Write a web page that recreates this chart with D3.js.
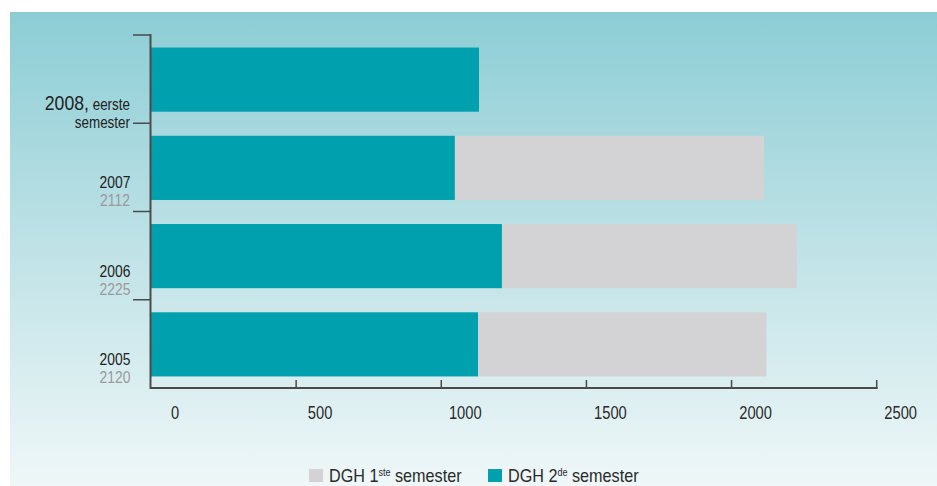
<!DOCTYPE html>
<html>
<head>
<meta charset="utf-8">
<script src="https://cdn.jsdelivr.net/npm/d3@7"></script>
<style>
  html, body { margin: 0; padding: 0; background: #fff; }
  svg { display: block; }
  text { font-family: "Liberation Sans", Arial, sans-serif; }
</style>
</head>
<body>
<svg id="chart" width="937" height="486"></svg>
<script>
// ---- data ----
const categories = ["2005", "2006", "2007", "2008"];
const semester1 = [993, 1016, 1065, 0];      // DGH 1ste semester (grey)
const semester2 = [1127, 1209, 1047, 1130];  // DGH 2de semester (teal)
const totals = ["2120", "2225", "2112", ""];
const xTicks = [0, 500, 1000, 1500, 2000, 2500];

const colTeal = "#00a0ae";
const colGrey = "#d3d3d5";
const SX = 0.84; // horizontal condensing of text

const svg = d3.select("#chart");

// background panel with gradient
const defs = svg.append("defs");
const grad = defs.append("linearGradient").attr("id", "bg").attr("x1", 0).attr("y1", 0).attr("x2", 0).attr("y2", 1);
grad.append("stop").attr("offset", "0%").attr("stop-color", "#8ccdd5");
grad.append("stop").attr("offset", "50%").attr("stop-color", "#bfe2e6");
grad.append("stop").attr("offset", "100%").attr("stop-color", "#eff7f8");
svg.append("rect").attr("x", 10).attr("y", 12).attr("width", 927).attr("height", 474).attr("fill", "url(#bg)");

// scales
const x = d3.scaleLinear().domain([0, 2500]).range([151, 876.7]);
const yOrder = categories.slice().reverse(); // 2008 at top
const y = d3.scaleBand().domain(yOrder).range([35, 388]).paddingInner(0.273).paddingOuter(0.1365);
const step = y.step();

// stacked data
const rows = categories.map((c, i) => ({ cat: c, s2: semester2[i], s1: semester1[i] }));
const stacked = d3.stack().keys(["s2", "s1"])(rows);
const colors = { s2: colTeal, s1: colGrey };

svg.append("g").selectAll("g").data(stacked).join("g")
  .attr("fill", d => colors[d.key])
  .selectAll("rect").data(d => d).join("rect")
  .attr("x", d => x(d[0]))
  .attr("width", d => Math.max(0, x(d[1]) - x(d[0])))
  .attr("y", d => y(d.data.cat) + 0.5)
  .attr("height", y.bandwidth());

function place(sel, px, py, sx) {
  return sel.attr("transform", `translate(${px},${py}) scale(${sx || SX},1)`);
}

// axes
const axisCol = "#4a4a4a";
const xAxis = svg.append("g");
xAxis.append("line").attr("x1", x(0) - 1).attr("x2", x(2500) + 1).attr("y1", 388).attr("y2", 388)
  .attr("stroke", axisCol).attr("stroke-width", 2);
xAxis.selectAll("line.tick").data(xTicks.slice(1)).join("line").attr("class", "tick")
  .attr("x1", d => x(d)).attr("x2", d => x(d)).attr("y1", 388).attr("y2", 380)
  .attr("stroke", axisCol).attr("stroke-width", 1.5);
xAxis.selectAll("text").data(xTicks).join("text")
  .attr("transform", d => `translate(${x(d) + 24},419) scale(${SX},1)`)
  .attr("text-anchor", "middle").attr("font-size", 17.5).attr("fill", "#2a2a2a")
  .text(d => d);

const yAxis = svg.append("g");
yAxis.append("line").attr("x1", 150.5).attr("x2", 150.5).attr("y1", 34).attr("y2", 389)
  .attr("stroke", axisCol).attr("stroke-width", 2);
const boundaries = yOrder.map(c => y(c) - step * y.paddingInner() / 2);
yAxis.selectAll("line.tick").data(boundaries).join("line").attr("class", "tick")
  .attr("x1", 133).attr("x2", 150).attr("y1", d => d).attr("y2", d => d)
  .attr("stroke", axisCol).attr("stroke-width", 1.5);

// category labels
const labG = svg.append("g");
categories.forEach((c, i) => {
  const top = y(c) - step * y.paddingInner() / 2;
  if (totals[i] !== "") {
    place(labG.append("text"), 115, top + 65).attr("text-anchor", "middle")
      .attr("font-size", 16.5).attr("fill", "#222").text(c);
    place(labG.append("text"), 115, top + 83).attr("text-anchor", "middle")
      .attr("font-size", 16.5).attr("fill", "#9a9a9a").text(totals[i]);
  } else {
    const t = place(labG.append("text"), 130, top + 75).attr("text-anchor", "end").attr("fill", "#222");
    t.append("tspan").attr("font-size", 21).text(c + ",");
    t.append("tspan").attr("font-size", 16).text(" eerste");
    place(labG.append("text"), 130, top + 93).attr("text-anchor", "end")
      .attr("font-size", 16).attr("fill", "#222").text("semester");
  }
});

// legend
const leg = svg.append("g");
const legItems = [
  { col: colGrey, main: "DGH 1", sup: "ste", rest: " semester", x: 309 },
  { col: colTeal, main: "DGH 2", sup: "de", rest: " semester", x: 488 }
];
legItems.forEach(it => {
  leg.append("rect").attr("x", it.x).attr("y", 469).attr("width", 14).attr("height", 13).attr("fill", it.col);
  const t = place(leg.append("text"), it.x + 20, 482, 0.9).attr("font-size", 18).attr("fill", "#2a2a2a");
  t.append("tspan").text(it.main);
  t.append("tspan").attr("font-size", 10).attr("dy", -6).text(it.sup);
  t.append("tspan").attr("dy", 6).text(it.rest);
});
</script>
</body>
</html>
